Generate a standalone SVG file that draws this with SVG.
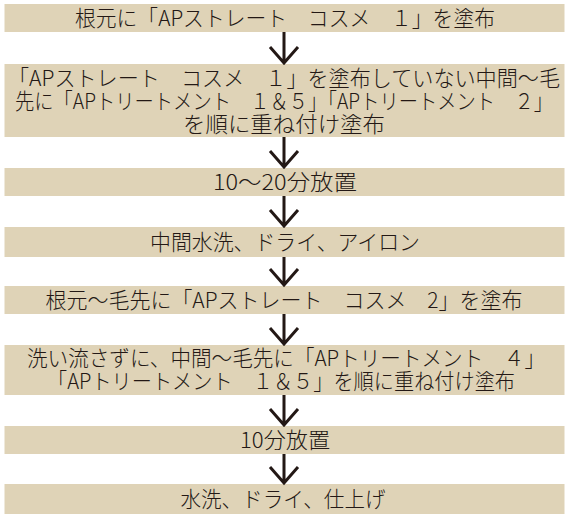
<svg xmlns="http://www.w3.org/2000/svg" width="570" height="519" viewBox="0 0 570 519">
<style>
.box{fill:#dfd3b7}
.t{font-family:"Noto Sans CJK JP","Noto Sans",sans-serif;font-size:21.5px;font-weight:300;fill:#231815;text-anchor:middle}
.c{stroke:#231815;stroke-width:3;fill:none;stroke-linecap:butt;stroke-linejoin:miter}
</style>
<rect width="570" height="519" fill="#ffffff"/>
<g id="n1"><rect class="box" x="4.5" y="4" width="560" height="28"/>
<text class="t" x="285" y="26" textLength="420" lengthAdjust="spacingAndGlyphs">根元に「APストレート　コスメ　１」を塗布</text></g>
<g id="n2"><rect class="box" x="4.5" y="64" width="560" height="73"/>
<text class="t" x="284" y="86" textLength="552" lengthAdjust="spacingAndGlyphs">「APストレート　コスメ　１」を塗布していない中間〜毛</text>
<text class="t" x="284" y="109" textLength="538" lengthAdjust="spacingAndGlyphs">先に「APトリートメント　１＆５」「APトリートメント　２」</text>
<text class="t" x="284" y="132" textLength="202" lengthAdjust="spacingAndGlyphs">を順に重ね付け塗布</text></g>
<g id="n3"><rect class="box" x="4.5" y="168" width="560" height="28"/>
<text class="t" x="285" y="190" textLength="144" lengthAdjust="spacingAndGlyphs">10〜20分放置</text></g>
<g id="n4"><rect class="box" x="4.5" y="227" width="560" height="30"/>
<text class="t" x="285" y="250" textLength="270" lengthAdjust="spacingAndGlyphs">中間水洗、ドライ、アイロン</text></g>
<g id="n5"><rect class="box" x="4.5" y="286" width="560" height="28"/>
<text class="t" x="284" y="308" textLength="477" lengthAdjust="spacingAndGlyphs">根元〜毛先に「APストレート　コスメ　2」を塗布</text></g>
<g id="n6"><rect class="box" x="4.5" y="345" width="560" height="50"/>
<text class="t" x="286" y="366" textLength="518" lengthAdjust="spacingAndGlyphs">洗い流さずに、中間〜毛先に「APトリートメント　４」</text>
<text class="t" x="281" y="389" textLength="468" lengthAdjust="spacingAndGlyphs">「APトリートメント　１＆５」を順に重ね付け塗布</text></g>
<g id="n7"><rect class="box" x="4.5" y="426" width="560" height="28"/>
<text class="t" x="285" y="448" textLength="90" lengthAdjust="spacingAndGlyphs">10分放置</text></g>
<g id="n8"><rect class="box" x="4.5" y="484" width="560" height="30"/>
<text class="t" x="283" y="507" textLength="205" lengthAdjust="spacingAndGlyphs">水洗、ドライ、仕上げ</text></g>
<g id="connectors">
<path class="c" d="M284 32V63M270 47L284 63L298 47"/>
<path class="c" d="M284 137V167M270 151L284 167L298 151"/>
<path class="c" d="M284 196V226M270 210L284 226L298 210"/>
<path class="c" d="M284 257V285M270 269L284 285L298 269"/>
<path class="c" d="M284 314V344M270 328L284 344L298 328"/>
<path class="c" d="M284 395V425M270 409L284 425L298 409"/>
<path class="c" d="M284 454V483M270 467L284 483L298 467"/>
</g>
</svg>
